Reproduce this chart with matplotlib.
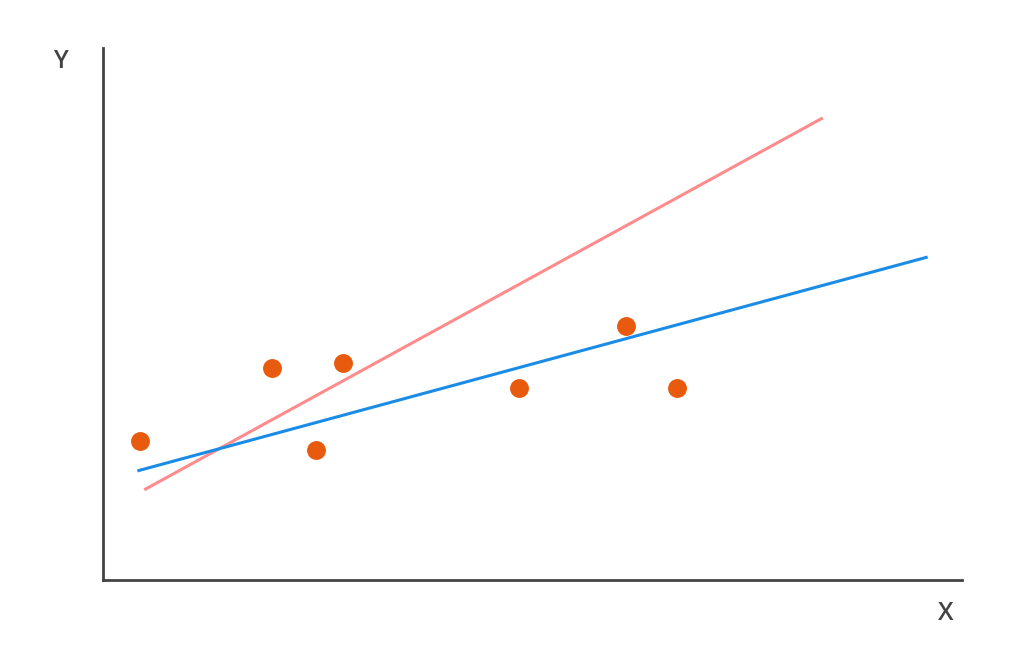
import matplotlib
matplotlib.use("Agg")
from matplotlib import pyplot as plt

# data points (axis units, x 0..10)
px = [0.43, 1.97, 2.48, 2.79, 4.84, 6.09, 6.68]
py = [1.62, 2.47, 1.51, 2.53, 2.24, 2.96, 2.24]

# fitted lines, start and end
blue_x = [0.40, 9.60]
blue_y = [1.27, 3.76]
pink_x = [0.48, 8.38]
pink_y = [1.05, 5.38]

fig = plt.figure(figsize=(10.24, 6.64), dpi=100)
ax = fig.add_axes([103 / 1024, 84 / 664, 859 / 1024, 532 / 664])
ax.set_xlim(0, 10)
ax.set_ylim(0, 532 / 85.9)

ax.plot(pink_x, pink_y, color="#FF8C8C", lw=2.2, solid_capstyle="butt")
ax.plot(blue_x, blue_y, color="#1A8CE6", lw=2.2, solid_capstyle="butt")
ax.scatter(px, py, s=185, color="#E85A0E", zorder=3, linewidths=0)

for side in ["top", "right"]:
    ax.spines[side].set_visible(False)
for side in ["left", "bottom"]:
    ax.spines[side].set_color("#444444")
    ax.spines[side].set_linewidth(2)
ax.set_xticks([])
ax.set_yticks([])

fig.text(60 / 1024, 1 - 61 / 664, "Y", ha="center", va="center",
         fontsize=18, color="#444444", family="Open Sans", weight="semibold")
fig.text(946 / 1024, 1 - 613 / 664, "X", ha="center", va="center",
         fontsize=18, color="#444444", family="Open Sans", weight="semibold")

fig.savefig("out.png", dpi=100, facecolor="white")
